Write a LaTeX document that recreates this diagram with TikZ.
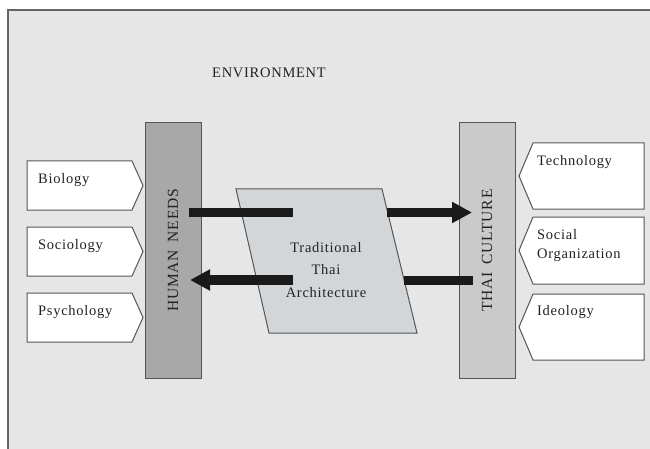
\documentclass[tikz,border=0pt]{standalone}
\usepackage{fontspec}
\setmainfont{Liberation Serif}[LetterSpace=5]
\usetikzlibrary{arrows.meta}
\definecolor{bgc}{HTML}{E6E6E6}
\definecolor{framec}{HTML}{666666}
\definecolor{hnc}{HTML}{A8A8A8}
\definecolor{tcc}{HTML}{CACACA}
\definecolor{parc}{HTML}{D3D6D9}
\definecolor{edgec}{HTML}{555555}
\definecolor{txtc}{HTML}{222222}
\definecolor{arrc}{HTML}{1A1A1A}
\tikzset{
  sidebox/.style={draw=edgec, fill=white, line width=1pt, line join=miter},
  lbl/.style={text=txtc, font=\fontsize{14.5}{19}\selectfont, inner sep=0pt, align=left},
  vbar/.style={draw=edgec, line width=1pt, rotate=90, minimum width=255pt, minimum height=56pt, inner sep=0pt, text=txtc, font=\fontsize{15.5}{17}\selectfont},
  thickbar/.style={draw=arrc, line width=9.5pt, line cap=butt},
  thickarrow/.style={thickbar, -{Triangle[length=20pt,width=20pt]}},
}
\begin{document}
\begin{tikzpicture}[x=1pt,y=-1pt]
\useasboundingbox (0,0) rectangle (650,449);
\fill[white] (0,0) rectangle (650,449);
\draw[fill=bgc, draw=framec, line width=1.8pt] (8,10) rectangle (662,462);

\node[text=txtc, font=\fontsize{14.5}{16}\selectfont] (env) at (269,73) {ENVIRONMENT};

% left boxes
\draw[sidebox] (27,161) -- (132,161) -- (143,185.5) -- (132,210) -- (27,210) -- cycle;
\draw[sidebox] (27,227) -- (132,227) -- (143,251.5) -- (132,276) -- (27,276) -- cycle;
\draw[sidebox] (27,293) -- (132,293) -- (143,317.5) -- (132,342) -- (27,342) -- cycle;
\node[lbl, anchor=west] (bio) at (38,180) {Biology};
\node[lbl, anchor=west] (soc) at (38,246) {Sociology};
\node[lbl, anchor=west] (psy) at (38,312) {Psychology};

% right boxes
\draw[sidebox] (533,143) -- (644,143) -- (644,209) -- (533,209) -- (519,176) -- cycle;
\draw[sidebox] (533,217) -- (644,217) -- (644,284) -- (533,284) -- (519,250.5) -- cycle;
\draw[sidebox] (533,294) -- (644,294) -- (644,360) -- (533,360) -- (519,327) -- cycle;
\node[lbl, anchor=west] (tech) at (537,162) {Technology};
\node[lbl, anchor=north west] (sorg) at (537,229) {Social\\Organization};
\node[lbl, anchor=west] (ideo) at (537,312) {Ideology};

% bars
\node[vbar, fill=hnc] (hn) at (173,250.5) {HUMAN\hspace{8pt}NEEDS};
\node[vbar, fill=tcc] (tc) at (487,250.5) {THAI\hspace{8pt}CULTURE};

% parallelogram
\draw[draw=edgec, fill=parc, line width=1pt] (236,189) -- (382,189) -- (417,333) -- (269,333) -- cycle;
\node[text=txtc, font=\fontsize{14.5}{22.5}\selectfont, align=center, inner sep=0pt] (tta) at (326,270) {Traditional\\Thai\\Architecture};

% connectors
\coordinate (a1s) at (189,212.5);
\coordinate (a1e) at (293,212.5);
\coordinate (a2s) at (293,280);
\coordinate (a2e) at (190,280);
\coordinate (a3s) at (387,212.5);
\coordinate (a3e) at (472,212.5);
\coordinate (a4s) at (404,280.5);
\coordinate (a4e) at (473,280.5);
\draw[thickbar] (a1s) -- (a1e);
\draw[thickarrow] (a2s) -- (a2e);
\draw[thickarrow] (a3s) -- (a3e);
\draw[thickbar] (a4s) -- (a4e);
\end{tikzpicture}
\end{document}
